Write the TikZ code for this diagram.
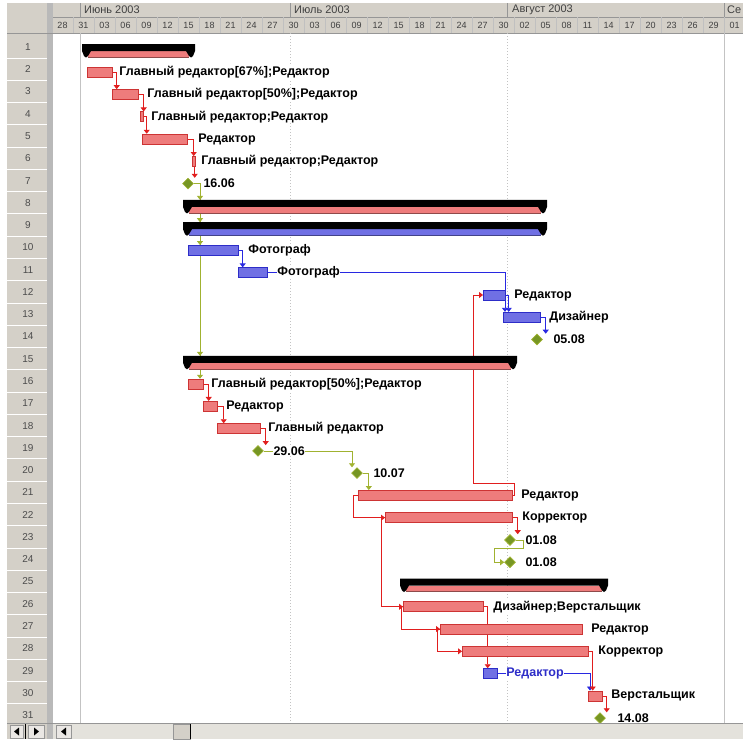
\documentclass[tikz,border=0pt]{standalone}
\usepackage{fontspec}
\setmainfont{Liberation Sans}
\usetikzlibrary{positioning,shapes.geometric,arrows.meta}

\definecolor{barred}{RGB}{238,124,124}
\definecolor{barredline}{RGB}{205,52,52}
\definecolor{barblue}{RGB}{112,112,228}
\definecolor{barblueline}{RGB}{45,45,200}
\definecolor{linkred}{RGB}{225,30,30}
\definecolor{linkblue}{RGB}{40,40,225}
\definecolor{linkolive}{RGB}{160,178,48}
\definecolor{milefill}{RGB}{118,150,36}
\definecolor{hdrgray}{RGB}{212,208,200}
\definecolor{hdrline}{RGB}{150,150,150}
\definecolor{splitgray}{RGB}{185,185,185}
\definecolor{gridgray}{RGB}{195,195,195}
\definecolor{trackgray}{RGB}{228,226,220}

\pgfdeclarelayer{bg}
\pgfdeclarelayer{links}
\pgfsetlayers{bg,links,main}

\tikzset{
  bar/.style={rectangle, inner sep=0pt, minimum height=10pt, anchor=west, line width=0.7pt},
  redbar/.style={bar, draw=barredline, fill=barred},
  bluebar/.style={bar, draw=barblueline, fill=barblue},
  milestone/.style={diamond, draw=linkolive, fill=milefill, minimum size=11pt, inner sep=0pt, line width=0.6pt},
  tasklbl/.style={inner sep=0.5pt, fill=white, font=\bfseries\fontsize{12.5}{13}\selectfont},
  rownum/.style={font=\fontsize{10}{11}\selectfont, text=black!70},
  monthlbl/.style={anchor=west, inner sep=0pt, font=\fontsize{11}{12}\selectfont, text=black!75},
  daylbl/.style={inner sep=0pt, font=\fontsize{9}{10}\selectfont, text=black!75},
  link/.style={line width=0.8pt, -{Triangle[width=6pt,length=4pt]}},
  redlink/.style={link, draw=linkred},
  bluelink/.style={link, draw=linkblue},
  olivelink/.style={link, draw=linkolive},
}

% summary bar: x1, x2, y, colour, name
\newcommand{\sumbar}[5]{%
  \fill[#4] (#1+6,#3+4) rectangle (#2-6,#3+10);
  \draw[#4!60!black, line width=0.5pt] (#1+6,#3+10) -- (#2-6,#3+10);
  \fill[black] (#1,#3-3) -- (#2,#3-3) -- (#2,#3+4) -- (#2-2,#3+9) -- (#2-4,#3+10.5)
    -- (#2-6,#3+9) -- (#2-9,#3+4) -- (#1+9,#3+4) -- (#1+6,#3+9) -- (#1+4,#3+10.5)
    -- (#1+2,#3+9) -- (#1,#3+4) -- cycle;
  \coordinate (#5) at (#1,#3-3);
}

\begin{document}
\begin{tikzpicture}[x=1pt,y=-1pt]
\useasboundingbox (0,0) rectangle (743,739);

\begin{pgfonlayer}{bg}
% header, row column, grid
\fill[hdrgray] (7,3) rectangle (743,33);
\fill[hdrgray] (7,33) rectangle (47,723);
\fill[splitgray] (47,3) rectangle (53,739);
\draw[hdrline] (53,17) -- (743,17);
\draw[hdrline] (7,33) -- (743,33);
\foreach \x in {80,290,507,724} \draw[hdrline] (\x,3) -- (\x,17);
\foreach \k in {1,...,32} \draw[hdrline!60] ({52+21*\k},17) -- ({52+21*\k},33);
\foreach \i in {1,...,31} \draw[white, line width=1pt] (7,{58.1+22.27*(\i-1)}) -- (47,{58.1+22.27*(\i-1)});
\draw[gridgray, line width=1pt] (80,33) -- (80,723);
\draw[gridgray, dotted, line width=1pt] (290,33) -- (290,723);
\draw[gridgray, dotted, line width=1pt] (507,33) -- (507,723);
\draw[gridgray, line width=1pt] (724,33) -- (724,723);
\end{pgfonlayer}

% timescale
\node[monthlbl] (mjun) at (84,10) {Июнь 2003};
\node[monthlbl] (mjul) at (294,10) {Июль 2003};
\node[monthlbl] (maug) at (512,10) {Август 2003};
\node[monthlbl] (msep) at (727,10) {Се};
\foreach \d [count=\k from 0] in {28,31,03,06,09,12,15,18,21,24,27,30,03,06,09,12,15,18,21,24,27,30,02,05,08,11,14,17,20,23,26,29,01}
  \node[daylbl] (d\k) at ({62.5+21*\k},25) {\d};
\foreach \i in {1,...,31}
  \node[rownum] (n\i) at (28,{47+22.27*(\i-1)}) {\i};

% phase 1
\sumbar{82}{195}{47}{barred}{s1}
\node[redbar, minimum width=25pt] (t2) at (87,72.3) {};
\node[tasklbl, right=6pt of t2] (l2) {Главный редактор[67\%];Редактор};
\node[redbar, minimum width=26pt] (t3) at (112,94.5) {};
\node[tasklbl, right=8pt of t3] (l3) {Главный редактор[50\%];Редактор};
\node[redbar, minimum width=3pt] (t4) at (140,116.8) {};
\node[tasklbl, right=7pt of t4] (l4) {Главный редактор;Редактор};
\node[redbar, minimum width=45pt] (t5) at (142,139.1) {};
\node[tasklbl, right=10pt of t5] (l5) {Редактор};
\node[redbar, minimum width=3pt] (t6) at (192,161.4) {};
\node[tasklbl, right=5pt of t6] (l6) {Главный редактор;Редактор};
\node[milestone] (m7) at (188,183.6) {};
\node[tasklbl, right=9pt of m7] (l7) {16.06};

% phase 2
\sumbar{183}{547}{202.9}{barred}{s8}
\sumbar{183}{547}{225.2}{barblue}{s9}
\node[bluebar, minimum width=50pt] (t10) at (188,250.4) {};
\node[tasklbl, right=9pt of t10] (l10) {Фотограф};
\node[bluebar, minimum width=29pt] (t11) at (238,272.7) {};
\node[tasklbl, right=9pt of t11] (l11) {Фотограф};
\node[bluebar, minimum width=22pt] (t12) at (483,295.0) {};
\node[tasklbl, right=8pt of t12] (l12) {Редактор};
\node[bluebar, minimum width=37pt] (t13) at (503,317.2) {};
\node[tasklbl, right=8pt of t13] (l13) {Дизайнер};
\node[milestone] (m14) at (537,339.5) {};
\node[tasklbl, right=10pt of m14] (l14) {05.08};

% phase 3
\sumbar{183}{517}{358.8}{barred}{s15}
\node[redbar, minimum width=15pt] (t16) at (188,384.1) {};
\node[tasklbl, right=7pt of t16] (l16) {Главный редактор[50\%];Редактор};
\node[redbar, minimum width=14pt] (t17) at (203,406.3) {};
\node[tasklbl, right=8pt of t17] (l17) {Редактор};
\node[redbar, minimum width=43pt] (t18) at (217,428.6) {};
\node[tasklbl, right=7pt of t18] (l18) {Главный редактор};
\node[milestone] (m19) at (258,450.9) {};
\node[tasklbl, right=9pt of m19] (l19) {29.06};
\node[milestone] (m20) at (357,473.1) {};
\node[tasklbl, right=10pt of m20] (l20) {10.07};
\node[redbar, minimum width=154pt] (t21) at (358,495.4) {};
\node[tasklbl, right=8pt of t21] (l21) {Редактор};
\node[redbar, minimum width=127pt] (t22) at (385,517.7) {};
\node[tasklbl, right=9pt of t22] (l22) {Корректор};
\node[milestone] (m23) at (510,540.0) {};
\node[tasklbl, right=9pt of m23] (l23) {01.08};
\node[milestone] (m24) at (510,562.2) {};
\node[tasklbl, right=9pt of m24] (l24) {01.08};

% phase 4
\sumbar{400}{608}{581.5}{barred}{s25}
\node[redbar, minimum width=80pt] (t26) at (403,606.8) {};
\node[tasklbl, right=9pt of t26] (l26) {Дизайнер;Верстальщик};
\node[redbar, minimum width=142pt] (t27) at (440,629.0) {};
\node[tasklbl, right=8pt of t27] (l27) {Редактор};
\node[redbar, minimum width=126pt] (t28) at (462,651.3) {};
\node[tasklbl, right=9pt of t28] (l28) {Корректор};
\node[bluebar, minimum width=14pt] (t29) at (483,673.6) {};
\node[tasklbl, right=8pt of t29, text=barblueline] (l29) {Редактор};
\node[redbar, minimum width=14pt] (t30) at (588,695.9) {};
\node[tasklbl, right=8pt of t30] (l30) {Верстальщик};
\node[milestone] (m31) at (600,718.1) {};
\node[tasklbl, right=11pt of m31] (l31) {14.08};

\begin{pgfonlayer}{links}
\draw[redlink] (t2.east) -- ++(4,0) coordinate (c2) -- (c2 |- t3.north);
\draw[redlink] (t3.east) -- ++(5,0) coordinate (c3) -- (c3 |- t4.north);
\draw[redlink] (t4.east) -- ++(3,0) coordinate (c4) -- (c4 |- t5.north);
\draw[redlink] (t5.east) -- ++(6,0) coordinate (c5) -- (c5 |- t6.north);
\draw[redlink] (t6.east) -- ++(-1,0) coordinate (c6) -- (c6 |- m7.north);
\draw[olivelink] (m7.east) -| ([xshift=17pt]s8);
\draw[olivelink] (m7.east) -| ([xshift=17pt]s9);
\draw[olivelink] (m7.east) -| ([xshift=12pt]t10.north west);
\draw[olivelink] (m7.east) -| ([xshift=17pt]s15);
\draw[olivelink] (m7.east) -| ([xshift=12pt]t16.north west);
\draw[bluelink] (t10.east) -- ++(4,0) coordinate (c10) -- (c10 |- t11.north);
\draw[bluelink] (t11.east) -| ([xshift=2pt]t13.north west);
\draw[bluelink] (t12.east) -- ++(3,0) coordinate (c12) -- (c12 |- t13.north);
\draw[bluelink] (t13.east) -- ++(5,0) coordinate (c13) -- (c13 |- m14.north);
\coordinate (k12) at (473,483);
\draw[redlink] (t21.east) -- ++(2,0) |- (k12) |- (t12.west);
\draw[redlink] (t16.east) -- ++(5,0) coordinate (c16) -- (c16 |- t17.north);
\draw[redlink] (t17.east) -- ++(6,0) coordinate (c17) -- (c17 |- t18.north);
\draw[redlink] (t18.east) -- ++(5,0) coordinate (c18) -- (c18 |- m19.north);
\draw[olivelink] (m19.east) -| ([xshift=-5pt]m20.north);
\draw[olivelink] (m20.east) -- ++(6,0) coordinate (c20) -- (c20 |- t21.north);
\draw[redlink] (t21.west) -- ++(-5,0) |- (t22.west);
\draw[redlink] (t22.west) -- ++(-4,0) |- (t26.west);
\draw[redlink] (t22.east) -- ++(5,0) coordinate (c22) -- (c22 |- m23.north);
\coordinate (k24) at (494,548);
\draw[olivelink] (m23.east) -- ++(8,0) |- (k24) |- (m24.west);
\draw[redlink] (t26.west) -- ++(-2,0) |- (t27.west);
\draw[redlink] (t27.west) -- ++(-3,0) |- (t28.west);
\draw[redlink] (t26.east) -- ++(4,0) coordinate (c26) -- (c26 |- t29.north);
\draw[bluelink] (t29.east) -| ([xshift=2pt]t30.north west);
\draw[redlink] (t28.east) -- ++(4,0) coordinate (c28) -- (c28 |- t30.north);
\draw[redlink] (t30.east) -- ++(4,0) coordinate (c30) -- (c30 |- m31.north);
\end{pgfonlayer}

% scroll bars
\fill[hdrgray] (7,723) rectangle (47,739);
\fill[trackgray] (53,723) rectangle (743,739);
\draw[hdrline] (7,723) -- (743,723);
\filldraw[fill=hdrgray!50!white, draw=hdrline] (10,725) rectangle (23,738);
\fill[black] (14,731.5) -- (19,727.5) -- (19,735.5) -- cycle;
\filldraw[fill=hdrgray!50!white, draw=hdrline] (28,725) rectangle (44,738);
\fill[black] (39,731.5) -- (34,727.5) -- (34,735.5) -- cycle;
\draw[black, line width=1pt] (25,724) -- (25,739);
\filldraw[fill=hdrgray!50!white, draw=hdrline] (56,725) rectangle (71,738);
\fill[black] (61,731.5) -- (66,727.5) -- (66,735.5) -- cycle;
\filldraw[fill=hdrgray, draw=hdrline] (173,724) rectangle (190,739);
\draw[black, line width=1pt] (190,724) -- (190,739);
\end{tikzpicture}
\end{document}
